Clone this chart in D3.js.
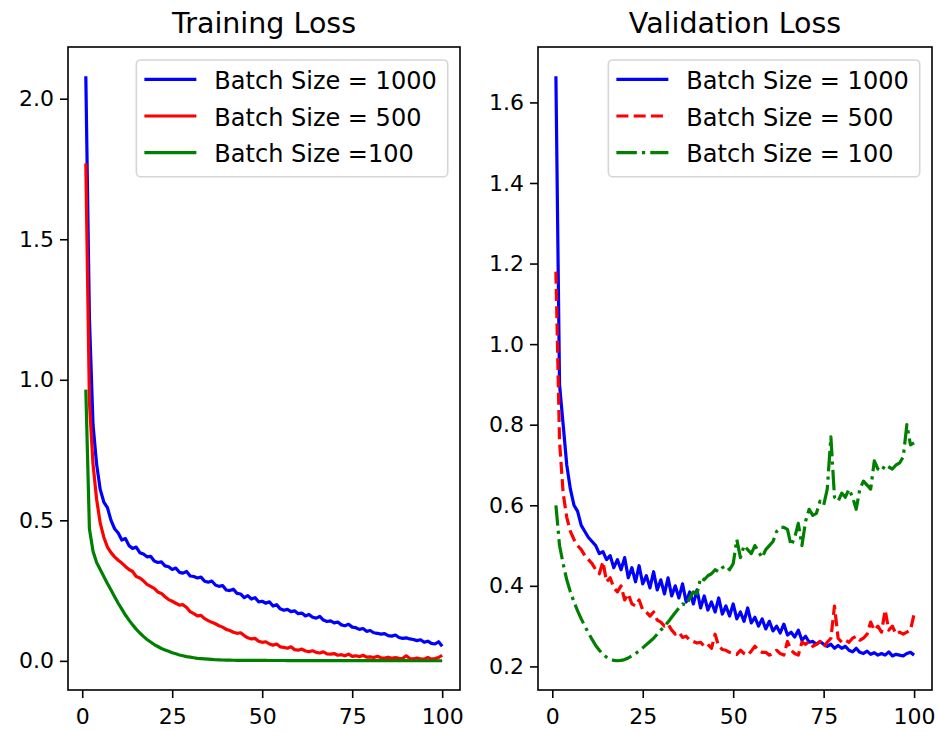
<!DOCTYPE html>
<html>
<head>
<meta charset="utf-8">
<script src="https://cdn.jsdelivr.net/npm/d3@7"></script>
<style>
  html, body { margin: 0; padding: 0; background: #fff; }
  svg { display: block; font-family: "DejaVu Sans", sans-serif; }
</style>
</head>
<body>
<div id="chart"></div>
<script>
// epochs 1..100
const epochs = d3.range(1, 101);

const trainBs1000 = [
  2.08, 1.22, 0.84, 0.70, 0.61, 0.565, 0.545, 0.50, 0.47, 0.455,
  0.43, 0.435, 0.41, 0.40, 0.405, 0.385, 0.38, 0.37, 0.372, 0.355,
  0.35, 0.352, 0.338, 0.335, 0.325, 0.33, 0.315, 0.312, 0.318, 0.302,
  0.30, 0.295, 0.298, 0.283, 0.28, 0.284, 0.27, 0.265, 0.268, 0.252,
  0.25, 0.255, 0.24, 0.238, 0.225, 0.232, 0.22, 0.225, 0.21, 0.212,
  0.205, 0.21, 0.195, 0.20, 0.185, 0.18, 0.183, 0.175, 0.178, 0.168,
  0.17, 0.16, 0.165, 0.155, 0.152, 0.158, 0.145, 0.14, 0.142, 0.135,
  0.138, 0.128, 0.125, 0.13, 0.12, 0.118, 0.112, 0.115, 0.105, 0.108,
  0.10, 0.098, 0.095, 0.097, 0.09, 0.088, 0.092, 0.083, 0.08, 0.082,
  0.078, 0.076, 0.072, 0.075, 0.066, 0.07, 0.062, 0.06, 0.068, 0.052
];

const trainBs500 = [
  1.77, 0.92, 0.70, 0.575, 0.49, 0.44, 0.405, 0.385, 0.37, 0.358,
  0.348, 0.336, 0.325, 0.318, 0.30, 0.295, 0.285, 0.272, 0.265, 0.258,
  0.245, 0.24, 0.228, 0.218, 0.212, 0.205, 0.198, 0.20, 0.19, 0.175,
  0.168, 0.16, 0.162, 0.15, 0.143, 0.137, 0.132, 0.125, 0.12, 0.112,
  0.108, 0.102, 0.098, 0.10, 0.09, 0.082, 0.078, 0.08, 0.07, 0.066,
  0.068, 0.06, 0.056, 0.06, 0.05, 0.048, 0.045, 0.05, 0.04, 0.038,
  0.042, 0.035, 0.033, 0.036, 0.03, 0.028, 0.032, 0.025, 0.024, 0.026,
  0.02, 0.022, 0.018, 0.024, 0.016, 0.018, 0.015, 0.02, 0.013, 0.014,
  0.012, 0.016, 0.011, 0.01, 0.013, 0.009, 0.012, 0.009, 0.008, 0.018,
  0.008, 0.007, 0.01, 0.007, 0.006, 0.012, 0.006, 0.008, 0.012, 0.02
];

const trainBs100 = [
  0.965, 0.47, 0.39, 0.35, 0.325, 0.30, 0.275, 0.252, 0.228, 0.205,
  0.184, 0.163, 0.145, 0.128, 0.113, 0.099, 0.087, 0.076, 0.067, 0.058,
  0.051, 0.044, 0.039, 0.034, 0.029, 0.025, 0.021, 0.018, 0.015, 0.013,
  0.011, 0.009, 0.008, 0.007, 0.006, 0.005, 0.004, 0.0035, 0.003, 0.0025,
  0.0024, 0.0022, 0.002, 0.0019, 0.0018, 0.0017, 0.0016, 0.0015, 0.0015, 0.0014,
  0.0014, 0.0013, 0.0013, 0.0012, 0.0012, 0.0012, 0.0011, 0.0011, 0.0011, 0.001,
  0.001, 0.001, 0.001, 0.0009, 0.0009, 0.0009, 0.0009, 0.0008, 0.0008, 0.0008,
  0.0008, 0.0008, 0.0007, 0.0007, 0.0007, 0.0007, 0.0007, 0.0006, 0.0006, 0.0006,
  0.0006, 0.0006, 0.0006, 0.0005, 0.0005, 0.0005, 0.0005, 0.0005, 0.0005, 0.0005,
  0.0004, 0.0004, 0.0004, 0.0004, 0.0004, 0.0004, 0.0004, 0.0004, 0.0003, 0.0003
];

const valBs1000 = [
  1.665, 0.90, 0.80, 0.70, 0.64, 0.60, 0.585, 0.55, 0.535, 0.52,
  0.51, 0.50, 0.48, 0.485, 0.465, 0.475, 0.445, 0.465, 0.44, 0.47,
  0.42, 0.445, 0.41, 0.45, 0.405, 0.425, 0.395, 0.435, 0.39, 0.415,
  0.38, 0.42, 0.375, 0.40, 0.37, 0.405, 0.36, 0.385, 0.355, 0.39,
  0.345, 0.375, 0.34, 0.36, 0.335, 0.37, 0.33, 0.35, 0.325, 0.355,
  0.318, 0.335, 0.312, 0.345, 0.308, 0.322, 0.30, 0.318, 0.293, 0.312,
  0.288, 0.30, 0.283, 0.305, 0.278, 0.285, 0.273, 0.29, 0.265, 0.275,
  0.26, 0.262, 0.255, 0.262, 0.255, 0.25, 0.255, 0.245, 0.252, 0.245,
  0.25, 0.24, 0.236, 0.245, 0.235, 0.232, 0.238, 0.23, 0.234, 0.228,
  0.232, 0.228, 0.236, 0.226, 0.23, 0.228, 0.226, 0.232, 0.235, 0.228
];

const valBs500 = [
  1.18, 0.76, 0.63, 0.57, 0.535, 0.515, 0.50, 0.49, 0.475, 0.465,
  0.455, 0.44, 0.43, 0.46, 0.41, 0.42, 0.395, 0.385, 0.40, 0.365,
  0.38, 0.355, 0.35, 0.365, 0.34, 0.335, 0.325, 0.335, 0.315, 0.31,
  0.30, 0.305, 0.29, 0.28, 0.285, 0.272, 0.275, 0.265, 0.262, 0.258,
  0.26, 0.25, 0.255, 0.245, 0.28, 0.25, 0.242, 0.24, 0.235, 0.232,
  0.23, 0.24, 0.232, 0.228, 0.238, 0.25, 0.24, 0.235, 0.235, 0.228,
  0.232, 0.24, 0.232, 0.228, 0.262, 0.24, 0.232, 0.228, 0.26, 0.255,
  0.262, 0.25, 0.255, 0.262, 0.248, 0.26, 0.27, 0.35, 0.27, 0.26,
  0.265, 0.26, 0.27, 0.275, 0.265, 0.27, 0.28, 0.31, 0.29, 0.30,
  0.285, 0.34, 0.29, 0.30, 0.28, 0.285, 0.28, 0.285, 0.29, 0.33
];

const valBs100 = [
  0.60, 0.50, 0.455, 0.415, 0.385, 0.36, 0.338, 0.318, 0.30, 0.283,
  0.267, 0.252, 0.24, 0.23, 0.223, 0.218, 0.215, 0.214, 0.215, 0.217,
  0.221, 0.226, 0.232, 0.239, 0.246, 0.254, 0.262, 0.27, 0.28, 0.29,
  0.30, 0.31, 0.322, 0.334, 0.345, 0.355, 0.352, 0.37, 0.385, 0.38,
  0.42, 0.415, 0.425, 0.43, 0.44, 0.435, 0.445, 0.45, 0.44, 0.455,
  0.515, 0.47, 0.50, 0.49, 0.48, 0.50, 0.485, 0.47, 0.49, 0.50,
  0.51, 0.535, 0.545, 0.545, 0.54, 0.50, 0.52, 0.555, 0.50, 0.56,
  0.59, 0.575, 0.58, 0.61, 0.60, 0.64, 0.77, 0.62, 0.61, 0.63,
  0.62, 0.64, 0.62, 0.59, 0.64, 0.66, 0.65, 0.64, 0.71, 0.69,
  0.685, 0.70, 0.695, 0.69, 0.70, 0.705, 0.72, 0.80, 0.75, 0.755
];

const xTicks = [0, 25, 50, 75, 100];
const trainYTicks = [0.0, 0.5, 1.0, 1.5, 2.0];
const valYTicks = [0.2, 0.4, 0.6, 0.8, 1.0, 1.2, 1.4, 1.6];

const panels = [
  {
    title: "Training Loss",
    left: 68, right: 460,
    yTicks: trainYTicks,
    series: [
      { label: "Batch Size = 1000", values: trainBs1000, color: "#0000ff", dash: null },
      { label: "Batch Size = 500", values: trainBs500, color: "#ff0000", dash: null },
      { label: "Batch Size =100", values: trainBs100, color: "#008000", dash: null }
    ]
  },
  {
    title: "Validation Loss",
    left: 538, right: 932,
    yTicks: valYTicks,
    series: [
      { label: "Batch Size = 1000", values: valBs1000, color: "#0000ff", dash: null },
      { label: "Batch Size = 500", values: valBs500, color: "#ff0000", dash: "12,5.3" },
      { label: "Batch Size = 100", values: valBs100, color: "#008000", dash: "20.5,5.1,3.2,5.1" }
    ]
  }
];

const width = 938, height = 732;
const plotTop = 47, plotBottom = 690;
const lineW = 3.2;

const svg = d3.select("#chart").append("svg")
  .attr("width", width)
  .attr("height", height);

// matplotlib style 5% margins
function padded(lo, hi) {
  const m = (hi - lo) * 0.05;
  return [lo - m, hi + m];
}

panels.forEach(p => {
  const x = d3.scaleLinear()
    .domain(padded(d3.min(epochs), d3.max(epochs)))
    .range([p.left, p.right]);

  const allVals = p.series.flatMap(s => s.values);
  const y = d3.scaleLinear()
    .domain(padded(d3.min(allVals), d3.max(allVals)))
    .range([plotBottom, plotTop]);

  const g = svg.append("g");

  // clip to axes
  const clipId = "clip-" + p.left;
  g.append("clipPath").attr("id", clipId)
    .append("rect")
    .attr("x", p.left).attr("y", plotTop)
    .attr("width", p.right - p.left).attr("height", plotBottom - plotTop);

  const line = d3.line()
    .x((d, i) => x(epochs[i]))
    .y(d => y(d));

  p.series.forEach(s => {
    g.append("path")
      .attr("clip-path", `url(#${clipId})`)
      .attr("d", line(s.values))
      .attr("fill", "none")
      .attr("stroke", s.color)
      .attr("stroke-width", lineW)
      .attr("stroke-linejoin", "round")
      .attr("stroke-dasharray", s.dash);
  });

  // axes
  const xAxis = d3.axisBottom(x)
    .tickValues(xTicks)
    .tickSize(8)
    .tickPadding(6)
    .tickFormat(d3.format("d"));

  const yAxis = d3.axisLeft(y)
    .tickValues(p.yTicks)
    .tickSize(8)
    .tickPadding(6)
    .tickFormat(d3.format(".1f"));

  const gx = g.append("g")
    .attr("transform", `translate(0,${plotBottom})`)
    .call(xAxis);
  const gy = g.append("g")
    .attr("transform", `translate(${p.left},0)`)
    .call(yAxis);

  [gx, gy].forEach(a => {
    a.select(".domain").remove();
    a.selectAll(".tick line").attr("stroke", "#000").attr("stroke-width", 1.6);
    a.selectAll(".tick text")
      .attr("fill", "#000")
      .style("font-size", "22px")
      .style("font-family", "DejaVu Sans");
  });
  gx.selectAll(".tick text").attr("dy", "0.9em");

  // frame
  g.append("rect")
    .attr("x", p.left).attr("y", plotTop)
    .attr("width", p.right - p.left).attr("height", plotBottom - plotTop)
    .attr("fill", "none")
    .attr("stroke", "#000")
    .attr("stroke-width", 1.6);

  // title
  g.append("text")
    .attr("x", (p.left + p.right) / 2)
    .attr("y", 33)
    .attr("text-anchor", "middle")
    .style("font-size", "28.5px")
    .attr("fill", "#000")
    .text(p.title);

  // legend
  const legend = g.append("g");
  const rowGap = 36.7;
  const firstRow = 79.3;
  const box = legend.append("rect")
    .attr("rx", 4).attr("ry", 4)
    .attr("fill", "#fff")
    .attr("fill-opacity", 0.8)
    .attr("stroke", "#d6d6d6")
    .attr("stroke-width", 1.6);

  const texts = [];
  p.series.forEach((s, i) => {
    const ry = firstRow + i * rowGap;
    legend.append("line")
      .attr("class", "handle")
      .attr("y1", ry).attr("y2", ry)
      .attr("stroke", s.color)
      .attr("stroke-width", lineW)
      .attr("stroke-dasharray", s.dash);
    texts.push(legend.append("text")
      .attr("y", ry + 9.5)
      .style("font-size", "24px")
      .attr("fill", "#000")
      .text(s.label));
  });

  const maxText = d3.max(texts, t => t.node().getComputedTextLength());
  const boxRight = p.right - 12.3;
  const textX = boxRight - 11 - maxText;
  const handleX2 = textX - 18;
  const handleX1 = handleX2 - 52;
  const boxLeft = handleX1 - 8;

  texts.forEach(t => t.attr("x", textX));
  legend.selectAll(".handle").attr("x1", handleX1).attr("x2", handleX2);
  box.attr("x", boxLeft).attr("y", 60)
    .attr("width", boxRight - boxLeft).attr("height", 116.7);
});
</script>
</body>
</html>
